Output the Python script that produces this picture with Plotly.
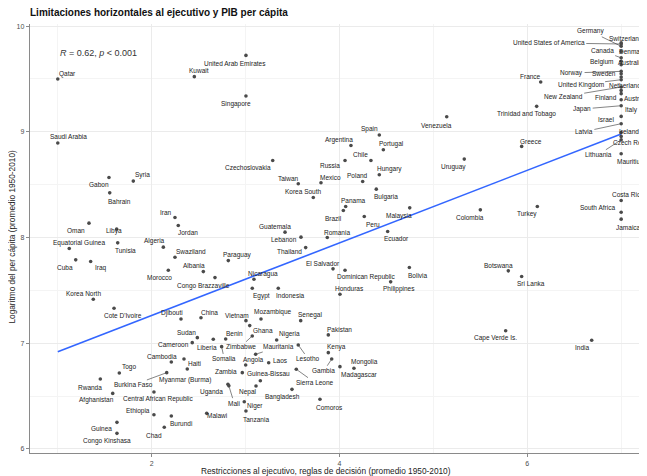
import numpy as np
import plotly.graph_objects as go

# ---------------- data ----------------
countries = [
    "Qatar", "Saudi Arabia", "Kuwait", "United Arab Emirates", "Singapore", "France",
    "Trinidad and Tobago", "Venezuela", "Spain", "Argentina", "Portugal", "Greece",
    "Chile", "Russia", "Czechoslovakia", "Hungary", "Poland", "Mexico", "Taiwan",
    "Bulgaria", "Korea South", "Panama", "Brazil", "Malaysia", "Peru", "Ecuador",
    "Romania", "Guatemala", "Lebanon", "Thailand", "El Salvador", "Dominican Republic",
    "Bolivia", "Philippines", "Honduras", "Nicaragua", "Egypt", "Indonesia", "Uruguay",
    "Colombia", "Turkey", "Botswana", "Sri Lanka", "Costa Rica", "South Africa",
    "Jamaica", "Mauritius", "Gabon", "Syria", "Bahrain", "Iran", "Jordan", "Oman",
    "Libya", "Equatorial Guinea", "Tunisia", "Algeria", "Cuba", "Iraq", "Swaziland",
    "Morocco", "Albania", "Paraguay", "Congo Brazzaville", "Korea North",
    "Cote D'Ivoire", "Djibouti", "China", "Vietnam", "Mozambique", "Senegal", "Sudan",
    "Cameroon", "Benin", "Ghana", "Liberia", "Zimbabwe", "Somalia", "Nigeria",
    "Mauritania", "Angola", "Laos", "Lesotho", "Zambia", "Guinea-Bissau",
    "Sierra Leone", "Nepal", "Uganda", "Mali", "Niger", "Tanzania", "Malawi",
    "Bangladesh", "Comoros", "Pakistan", "Kenya", "Gambia", "Madagascar", "Mongolia",
    "Cape Verde Is.", "India", "Cambodia", "Haiti", "Myanmar (Burma)", "Burkina Faso",
    "Togo", "Rwanda", "Afghanistan", "Central African Republic", "Ethiopia", "Burundi",
    "Chad", "Guinea", "Congo Kinshasa", "Germany", "Switzerland",
    "United States of America", "Canada", "Denmark", "Belgium", "Australia", "Norway",
    "Sweden", "United Kingdom", "Netherlands", "New Zealand", "Finland", "Austria",
    "Japan", "Italy", "Israel", "Latvia", "Ireland", "Czech Republic", "Lithuania",
]

xconst = [
    1.00, 1.00, 2.454, 3.004, 3.004, 6.143,
    6.100, 5.142, 4.424, 4.122, 4.467, 5.940,
    4.335, 4.059, 3.289, 4.424, 4.247, 3.803, 3.561,
    4.392, 3.721, 4.066, 4.041, 4.748, 4.264, 4.513,
    3.870, 3.420, 3.590, 3.640, 3.931, 4.059,
    4.744, 4.545, 4.005, 3.089, 3.071, 3.348, 5.329,
    5.500, 6.107, 5.798, 5.940, 7.0, 7.0,
    7.0, 7.0, 1.545, 1.804, 1.553, 2.248, 2.283, 1.332,
    1.627, 1.122, 1.638, 2.124, 1.191, 1.350, 2.248,
    2.177, 2.550, 2.816, 2.674, 1.378,
    1.599, 2.312, 2.525, 3.004, 3.164, 3.587, 2.486,
    2.432, 2.788, 3.044, 2.656, 3.071, 2.745, 3.331,
    3.107, 3.001, 3.246, 3.561, 2.965, 3.157,
    3.540, 3.111, 2.812, 2.822, 2.986, 3.004, 2.586,
    3.494, 3.792, 3.881, 3.881, 3.917, 4.005, 4.154,
    5.770, 6.686, 2.209, 2.344, 2.379, 2.160,
    1.655, 1.453, 1.585, 2.024, 2.024, 2.209,
    2.134, 1.630, 1.630, 7.0, 7.0,
    7.0, 7.0, 7.0, 7.0, 7.0, 7.0,
    7.0, 7.0, 7.0, 7.0, 7.0, 7.0,
    7.0, 7.0, 7.0, 7.0, 7.0, 7.0, 7.0,
]

log_gdp = [
    9.500, 8.894, 9.522, 9.723, 9.339, 9.472,
    9.241, 9.143, 8.970, 8.871, 8.830, 8.862,
    8.729, 8.729, 8.729, 8.594, 8.530, 8.518, 8.509,
    8.458, 8.379, 8.294, 8.256, 8.281, 8.199, 8.057,
    8.000, 8.051, 8.004, 7.905, 7.704, 7.691,
    7.716, 7.581, 7.464, 7.606, 7.521, 7.521, 8.742,
    8.262, 8.294, 7.685, 7.631, 8.350, 8.240,
    8.174, 8.793, 8.568, 8.534, 8.423, 8.189, 8.114, 8.136,
    8.080, 7.896, 7.950, 7.909, 7.789, 7.773, 7.814,
    7.691, 7.678, 7.782, 7.621, 7.417,
    7.331, 7.230, 7.242, 7.214, 7.230, 7.214, 7.053,
    7.006, 7.041, 7.167, 7.038, 7.069, 6.968, 7.031,
    6.896, 6.794, 6.816, 6.984, 6.722, 6.646,
    6.754, 6.596, 6.612, 6.597, 6.447, 6.359, 6.337,
    6.564, 6.470, 7.079, 6.911, 6.851, 6.779, 6.763,
    7.119, 7.028, 6.823, 6.851, 6.757, 6.722,
    6.719, 6.662, 6.526, 6.539, 6.324, 6.312,
    6.205, 6.252, 6.148, 9.809, 9.841,
    9.831, 9.700, 9.761, 9.635, 9.667, 9.572,
    9.550, 9.493, 9.519, 9.424, 9.392, 9.361,
    9.247, 9.304, 9.146, 9.077, 8.994, 8.957, 8.925,
]

x_ticks = [2, 4, 6]
y_ticks = [6, 7, 8, 9, 10]
cor_label = "<i>R</i> = 0.62, <i>p</i> &lt; 0.001"

# ---------------- label placement (pixel offsets, like ggrepel) ----------------
label_dx = [
    9.5, 10.7, 4.7, -10.7, -10, -10.7,
    -10, -10, -10, -11.7, 8.4, 9.3,
    -10.3, -15, -25, 10, -5, 9.3, -9.6,
    9.7, -10, 8.3, -10, -10.4, 9, 9,
    9.4, -9.7, -17.3, -16.4, -9.7, 21.7,
    9, 8.6, 9.3, 8.7, 9, 12.4, -10.3,
    -10, -10, -10, 9.6, 7, -24,
    7, 9.4, -10.3, 9, 9.3, -9.3, 9.4, -12.7,
    -2.4, 10, 8, -9.3, -10.4, 10, 16,
    -9.3, -9.3, 9, -11, -10,
    9, -9.3, 8.3, -9.3, 12.3, 9.3, -10.6,
    -18.3, 9.3, 13.6, -6.6, -11.6, 2.6, 12.6,
    22.6, 7.6, 12, 10, -16.3, 8,
    18.7, -7.7, -16.3, 5.3, 10.7, 9.7, 10,
    -9.7, 9.3, 11, 8.4, -7.7, 20, 10.3,
    -9.7, -10, -9.6, 10.3, -2.3, -33.4,
    9.4, -10.3, -16, 3.7, -16.3, 9.7,
    -10.3, -15.3, -10.3, -30.6, 5,
    -72.4, -19, 11, -19.6, 10.3, -49.6,
    -17.3, -40.6, 6, -58, -15, 13,
    -39, 10, -15, -37.3, 7.7, 14.7, -23,
]
label_dy = [
    -5.3, -6.3, -6, 8, 8.4, -5.6,
    7.3, 8.3, -6, -5.4, -5.7, -5,
    -6, 5, 7.3, -5.3, -5.7, -5.4, -5.3,
    7.7, -6, -5.7, 7.6, 8.3, 8, 7.3,
    -5.4, -6, 2.7, 3.6, -5.3, 7,
    8, 7.3, -5.3, -5, 7.7, 7.7, 7.4,
    7.3, 7.6, -5.3, 7.3, -5.7, -4.6,
    8, 7.7, 7, -6, 8.3, -5.4, 7, 7.7,
    1.7, -6, 7.3, -6, 7.7, 6.6, -5.6,
    7.4, -6, -5.7, 8, -5.6,
    7.4, -5.7, -5, -5.4, -6.7, -6, -5.4,
    1.6, -5.7, 5, 8.4, 10.7, 12.3, -6,
    -7.3, -5, -2.7, 14, -1.4, -7.4,
    13.4, 5.7, 8, 17.3, 4.3, 8.3, 1.7,
    7.7, 8, -5.7, -5.7, 11.7, 8.6, -6.3,
    7, 7.4, -5.7, 4.3, 11.3, 12.3,
    -6, 8.3, 7, 7.3, -3.4, 7.7,
    8.4, 6, 7.4, -15, -4,
    -1, -7, 0.6, -2.7, 1.6, 1.6,
    0, 5, 8.4, 9.7, 7, 5,
    3.3, 10.7, 3.3, 8, -0.7, 6.6, 15,
]
line_labels = {
    "Zimbabwe", "Somalia", "Mauritania", "Lesotho", "Sierra Leone", "Mali", "Gambia",
    "Burkina Faso", "Germany", "United States of America", "Canada", "Norway",
    "United Kingdom", "New Zealand", "Japan", "Latvia", "Lithuania",
}

FONT = "Liberation Sans, Arial, sans-serif"

# page has an 8px body margin: figure is sized/offset so the panel lands where the reference has it
FIG_W, FIG_H = 639, 468
M_L, M_R, M_T, M_B = 22, 0, 16, 23
PLOT_W = FIG_W - M_L - M_R
PLOT_H = FIG_H - M_T - M_B

x = np.array(xconst)
y = np.array(log_gdp)
slope, intercept = np.polyfit(x, y, 1)
fit_x = np.array([x.min(), x.max()])
fit_y = intercept + slope * fit_x

fig = go.Figure()
fig.add_trace(go.Scatter(
    x=fit_x, y=fit_y, mode="lines",
    line=dict(color="#3366FF", width=1.6), hoverinfo="skip", showlegend=False,
))
fig.add_trace(go.Scatter(
    x=xconst, y=log_gdp, mode="markers", text=countries,
    marker=dict(color="#4a4a4a", size=3.6), hoverinfo="text", showlegend=False,
))

annotations = []
for name, xi, yi, dx, dy in zip(countries, xconst, log_gdp, label_dx, label_dy):
    if name in line_labels:
        annotations.append(dict(
            x=xi, y=yi, xref="x", yref="y", text=name, showarrow=True,
            ax=dx, ay=dy, arrowhead=0, arrowwidth=0.6, arrowcolor="#333333",
            standoff=1.5, font=dict(family=FONT, size=6.5, color="#222222"),
        ))
    else:
        annotations.append(dict(
            x=xi, y=yi, xref="x", yref="y", text=name, showarrow=False,
            xshift=dx, yshift=-dy, xanchor="center", yanchor="middle",
            font=dict(family=FONT, size=6.5, color="#222222"),
        ))

annotations.append(dict(
    x=1.0, y=9.746, xref="x", yref="y", text=cor_label, showarrow=False,
    xanchor="left", yanchor="middle", font=dict(family=FONT, size=9, color="#333333"),
))
annotations.append(dict(
    x=(325.5 - 30) / PLOT_W, y=-18.5 / PLOT_H, xref="paper", yref="paper",
    text="Restricciones al ejecutivo, reglas de decisión (promedio 1950-2010)",
    showarrow=False, xanchor="center", yanchor="middle",
    font=dict(family=FONT, size=8.3, color="#222222"),
))
annotations.append(dict(
    x=-(M_L - 3.6) / PLOT_W, y=(453 - 237) / PLOT_H, xref="paper", yref="paper",
    text="Logaritmo del per cápita (promedio 1950-2010)", textangle=-90,
    showarrow=False, xanchor="center", yanchor="middle",
    font=dict(family=FONT, size=8.3, color="#222222"),
))

axis_common = dict(
    showline=True, linecolor="#8a8a8a", linewidth=1.4, ticks="outside", ticklen=3,
    tickcolor="#8a8a8a", tickwidth=1, tickfont=dict(family=FONT, size=7, color="#4d4d4d"),
    showgrid=True, gridcolor="#ebebeb", gridwidth=1, zeroline=False, mirror=False,
    automargin=False,
)

fig.update_layout(
    width=FIG_W, height=FIG_H,
    margin=dict(l=M_L, r=M_R, t=M_T, b=M_B, pad=0),
    paper_bgcolor="white", plot_bgcolor="white",
    title=dict(
        text="<b>Limitaciones horizontales al ejecutivo y PIB per cápita</b>",
        x=M_L / FIG_W, xref="container", xanchor="left",
        y=1 - 4.6 / FIG_H, yref="container", yanchor="middle",
        font=dict(family=FONT, size=10, color="#111111"),
    ),
    xaxis=dict(
        range=[0.704, 7.275], tickvals=x_ticks, ticktext=[str(v) for v in x_ticks],
        minor=dict(tickvals=[1, 3, 5, 7], showgrid=True, gridcolor="#f4f4f4", gridwidth=0.6, ticks=""),
        **axis_common,
    ),
    yaxis=dict(
        range=[5.962, 10.02], tickvals=y_ticks, ticktext=[str(v) for v in y_ticks],
        minor=dict(tickvals=[6.5, 7.5, 8.5, 9.5], showgrid=True, gridcolor="#f4f4f4", gridwidth=0.6, ticks=""),
        **axis_common,
    ),
    annotations=annotations,
    showlegend=False,
)

fig.write_html("out.html")
